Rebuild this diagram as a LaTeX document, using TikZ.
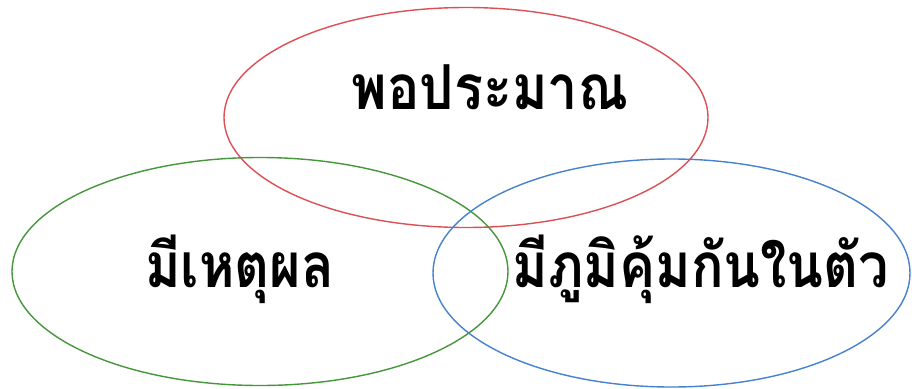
\documentclass[tikz,border=0pt]{standalone}
\usepackage{fontspec}
\newfontfamily\thaifont[Script=Thai]{Loma}
\definecolor{cred}{RGB}{220,80,85}
\definecolor{cgreen}{RGB}{70,150,60}
\definecolor{cblue}{RGB}{70,130,205}
\tikzset{
  ring/.style={line width=1.4pt},
  lbl/.style={font=\thaifont\bfseries\fontsize{62}{70}\selectfont, inner sep=0pt, xscale=0.87}
}
\begin{document}
\begin{tikzpicture}[x=1pt,y=-1pt]
\useasboundingbox (0,0) rectangle (912,388);
\fill[white] (0,0) rectangle (912,388);
\draw[ring,cred] (466,117.5) ellipse [x radius=242, y radius=110];
\draw[ring,cgreen] (260,271.5) ellipse [x radius=248, y radius=114];
\draw[ring,cblue] (671.5,273) ellipse [x radius=238.5, y radius=114];
\node[lbl] (a) at (490,87) {พอประมาณ};
\node[lbl] (b) at (240,269) {มีเหตุผล};
\node[lbl] (c) at (701,269) {มีภูมิคุ้มกันในตัว};
\end{tikzpicture}
\end{document}
